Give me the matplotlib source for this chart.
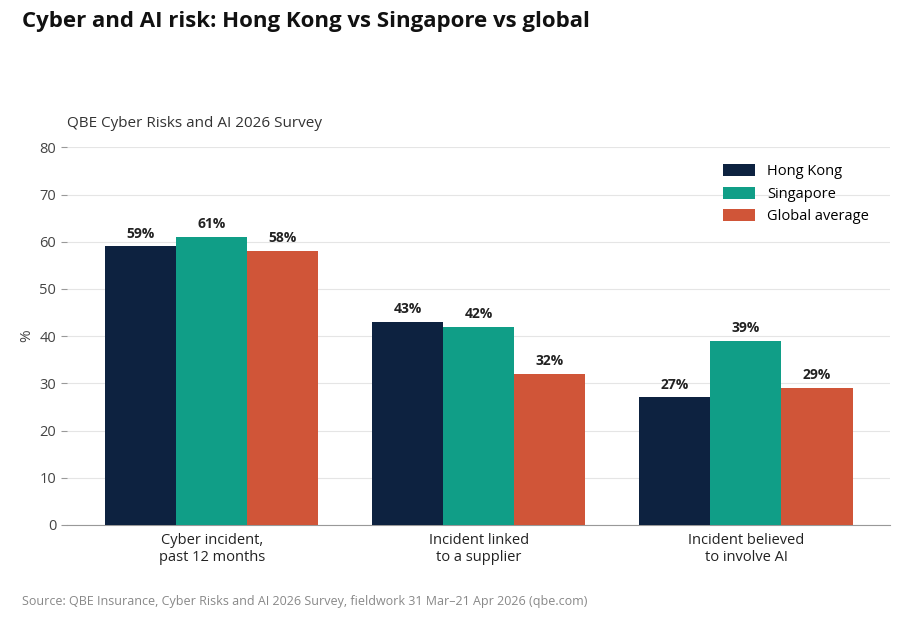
import matplotlib.pyplot as plt
import numpy as np

categories = ["Cyber incident,\npast 12 months", "Incident linked\nto a supplier", "Incident believed\nto involve AI"]
series = ["Hong Kong", "Singapore", "Global average"]
hong_kong = [59, 43, 27]
singapore = [61, 42, 39]
global_avg = [58, 32, 29]
colors = ["#0d2240", "#109e87", "#d05538"]

plt.rcParams['font.family'] = ['Open Sans', 'DejaVu Sans']

fig = plt.figure(figsize=(9.01, 6.19), dpi=100)
ax = fig.add_axes([0.074, 0.152, 0.914, 0.610])

x = np.arange(len(categories))
w = 0.266
for i, (name, vals) in enumerate(zip(series, [hong_kong, singapore, global_avg])):
    pos = x + (i - 1) * w
    ax.bar(pos, vals, width=w, color=colors[i], label=name, zorder=3)
    for p, v in zip(pos, vals):
        ax.text(p, v + 1.2, f"{v}%", ha='center', va='bottom', fontsize=10, fontweight='bold', color='#222222')

ax.set_xlim(-0.543, 2.54)
ax.set_ylim(0, 80)
ax.set_yticks(range(0, 81, 10))
ax.set_xticks(x)
ax.set_xticklabels(categories, fontsize=10.5, color='#222222')
ax.tick_params(axis='y', labelsize=10.5, colors='#444444', length=4, color='#999999')
ax.tick_params(axis='x', length=0, pad=6)
ax.grid(axis='y', color='#e5e5e5', linewidth=0.8, zorder=0)
for s in ['top', 'right', 'left']:
    ax.spines[s].set_visible(False)
ax.spines['bottom'].set_color('#999999')
ax.set_ylabel('%', fontsize=11, color='#444444')

ax.legend(loc='upper right', frameon=False, fontsize=10.5, handlelength=2.2, handleheight=0.9,
          bbox_to_anchor=(0.99, 0.99))

fig.text(0.024, 0.965, "Cyber and AI risk: Hong Kong vs Singapore vs global", fontsize=16,
         fontweight='bold', va='center', color='#111111')
fig.text(0.074, 0.800, "QBE Cyber Risks and AI 2026 Survey", fontsize=11, va='center', color='#333333')
fig.text(0.024, 0.029, "Source: QBE Insurance, Cyber Risks and AI 2026 Survey, fieldwork 31 Mar\u201321 Apr 2026 (qbe.com)",
         fontsize=9, va='center', color='#888888')

fig.savefig('out.png', dpi=100)
